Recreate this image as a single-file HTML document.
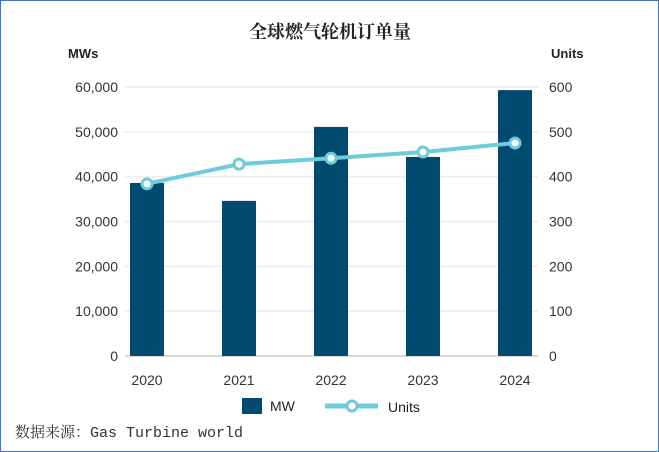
<!DOCTYPE html>
<html><head><meta charset="utf-8"><style>
body{margin:0;background:#fff}
svg{display:block}
</style></head><body>
<svg width="659" height="452" xmlns="http://www.w3.org/2000/svg" id="c">
<rect x="0.5" y="0.5" width="658" height="451" fill="#fff" stroke="#4a72b8"/>
<text x="330" y="38" text-anchor="middle" font-family="'Liberation Serif','Noto Serif CJK SC',serif" font-weight="bold" font-size="18" fill="#222">全球燃气轮机订单量</text>
<text x="68" y="58" font-family="'Liberation Sans',sans-serif" font-weight="bold" font-size="13" fill="#222">MWs</text>
<text x="551" y="58" font-family="'Liberation Sans',sans-serif" font-weight="bold" font-size="13" fill="#222">Units</text>
<g id="grid"></g><g id="bars"></g><g id="line"></g><g id="labels"></g>
<rect x="242" y="398" width="20" height="16" fill="#004a70"/>
<text x="270" y="411" font-family="'Liberation Sans',sans-serif" font-size="14" fill="#222">MW</text>
<line x1="325" y1="406" x2="378" y2="406" stroke="#6ecbdc" stroke-width="5"/>
<circle cx="352" cy="406" r="5" fill="#fff" stroke="#6ecbdc" stroke-width="3"/>
<text x="388" y="412" font-family="'Liberation Sans',sans-serif" font-size="14" fill="#222">Units</text>
<text x="15" y="437" font-family="'Liberation Mono','Noto Serif CJK SC',monospace" font-size="15" fill="#333">数据来源：Gas Turbine world</text>
</svg>
<script>
const years=["2020","2021","2022","2023","2024"];
const mw=[38600,34600,51100,44400,59300];
const units=[384,428,441,455,475];
const leftTicks=["0","10,000","20,000","30,000","40,000","50,000","60,000"];
const rightTicks=["0","100","200","300","400","500","600"];
const NS="http://www.w3.org/2000/svg";
const y0=356,y1=87,xL=125,xR=538;
const yL=v=>y0-(v/60000)*(y0-y1);
const yR=v=>y0-(v/600)*(y0-y1);
const xC=i=>147+i*92;
function mk(t,a,p){const e=document.createElementNS(NS,t);for(const k in a)e.setAttribute(k,a[k]);document.getElementById(p).appendChild(e);return e;}
leftTicks.forEach((t,i)=>{
 const y=yL(i*10000);
 const g=mk("line",{x1:xL,x2:xR,y1:y,y2:y,stroke:i==0?"#d8d8d8":"#ececec","stroke-width":i==0?2:1.5},"grid");
 
 
 const a=mk("text",{x:118,y:y+5,"text-anchor":"end","font-family":"Liberation Sans,sans-serif","font-size":"14",fill:"#333"},"labels");
 a.textContent=t;
 
 
 const b=mk("text",{x:549,y:y+5,"font-family":"Liberation Sans,sans-serif","font-size":"14",fill:"#333"},"labels");
 b.textContent=rightTicks[i];
 
 
});
years.forEach((yr,i)=>{
 const r=mk("rect",{x:xC(i)-17,y:yL(mw[i]),width:34,height:y0-yL(mw[i]),fill:"#004a70"},"bars");
 
 
 const t=mk("text",{x:xC(i),y:385,"text-anchor":"middle","font-family":"Liberation Sans,sans-serif","font-size":"14",fill:"#333"},"labels");
 t.textContent=yr;
 
 
});
const pl=mk("polyline",{points:units.map((u,i)=>xC(i)+","+yR(u)).join(" "),fill:"none",stroke:"#6ecbdc","stroke-width":4},"line");


units.forEach((u,i)=>{
 const c=mk("circle",{cx:xC(i),cy:yR(u),r:5,fill:"#fff",stroke:"#6ecbdc","stroke-width":3},"line");
 
 
});
</script>
</body></html>
